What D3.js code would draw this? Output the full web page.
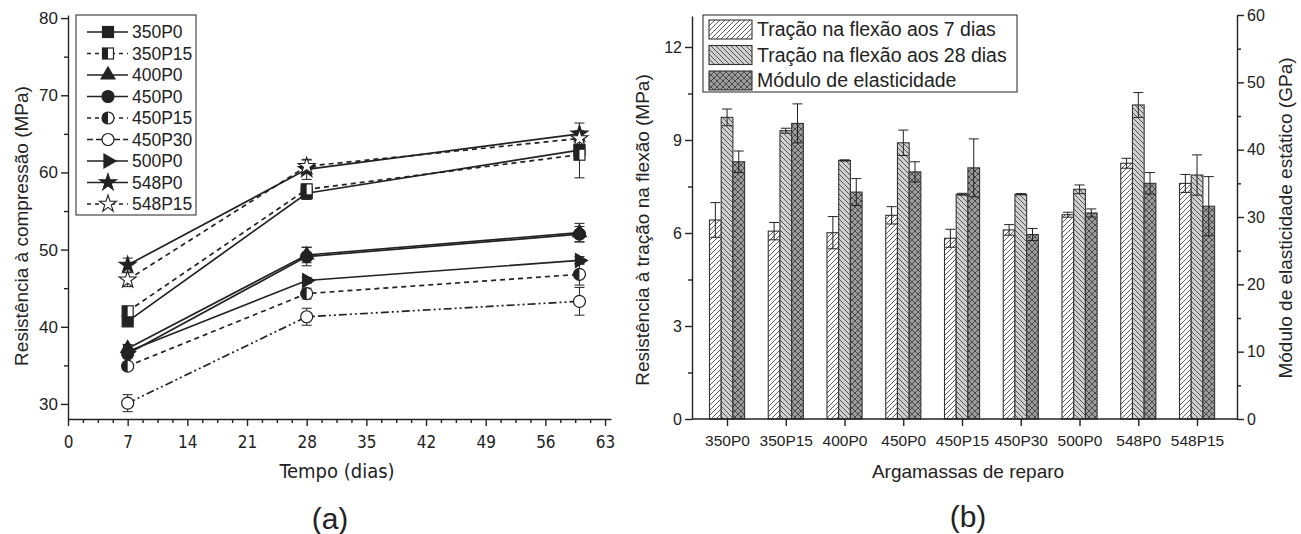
<!DOCTYPE html>
<html>
<head>
<meta charset="utf-8">
<script src="https://cdn.jsdelivr.net/npm/d3@7/dist/d3.min.js"></script>
<style>
  body { margin: 0; background: #fff; }
  svg { font-family: "Liberation Sans", Arial, sans-serif; }
  .axis path, .axis line { stroke: #222; stroke-width: 1.4; }
  .axis text { fill: #222; font-size: 16px; font-family: "Liberation Sans", Arial, sans-serif; }
  .narrow text { font-family: "Liberation Sans Narrow", "DejaVu Sans Condensed", Arial, sans-serif; }
</style>
</head>
<body>
<svg id="chart" width="1301" height="534"></svg>
<script>

// ---- (a) compressive strength vs time ----
var days = [7, 28, 60];
var seriesNames = ['350P0', '350P15', '400P0', '450P0', '450P15', '450P30', '500P0', '548P0', '548P15'];
var v350P0  = [40.7, 57.3, 62.9];
var v350P15 = [42.0, 57.8, 62.3];
var v400P0  = [37.2, 49.3, 52.2];
var v450P0  = [36.5, 49.1, 52.0];
var v450P15 = [34.9, 44.3, 46.8];
var v450P30 = [30.1, 41.3, 43.3];
var v500P0  = [36.8, 46.0, 48.6];
var v548P0  = [48.0, 60.4, 65.0];
var v548P15 = [46.1, 60.8, 64.4];
var e350P0  = [0.3, 0.8, 1.0];
var e350P15 = [0.3, 0.7, 3.0];
var e400P0  = [0.5, 1.0, 1.2];
var e450P0  = [0.5, 1.2, 1.0];
var e450P15 = [0.5, 0.7, 1.4];
var e450P30 = [1.1, 1.1, 1.8];
var e500P0  = [0.4, 0.4, 0.5];
var e548P0  = [0.9, 1.3, 1.4];
var e548P15 = [0.9, 0.8, 1.0];
var xTicksA = [0, 7, 14, 21, 28, 35, 42, 49, 56, 63];
var yTicksA = [30, 40, 50, 60, 70, 80];

// ---- (b) bars ----
var mortars = ['350P0', '350P15', '400P0', '450P0', '450P15', '450P30', '500P0', '548P0', '548P15'];
var flex7   = [6.42, 6.06, 6.01, 6.57, 5.83, 6.10, 6.59, 8.25, 7.60];
var flex7e  = [0.56, 0.28, 0.52, 0.28, 0.29, 0.17, 0.08, 0.16, 0.29];
var flex28  = [9.73, 9.30, 8.34, 8.91, 7.25, 7.25, 7.41, 10.13, 7.87];
var flex28e = [0.27, 0.08, 0.02, 0.41, 0.03, 0.02, 0.14, 0.40, 0.65];
var modulus = [38.2, 43.9, 33.7, 36.7, 37.3, 27.4, 30.6, 35.0, 31.6];
var modulusE = [1.6, 2.9, 2.0, 1.5, 4.3, 0.9, 0.6, 1.6, 4.4];
var yTicksL = [0, 3, 6, 9, 12];
var yTicksR = [0, 10, 20, 30, 40, 50, 60];
var legendB = ['Tração na flexão aos 7 dias', 'Tração na flexão aos 28 dias', 'Módulo de elasticidade'];

var ink = '#222';
var svg = d3.select('#chart');

/* patterns */
var defs = svg.append('defs');

function hatch ( id, size, bg, d ) {
    var p = defs.append('pattern')
        .attr('id', id)
        .attr('patternUnits', 'userSpaceOnUse')
        .attr('width', size)
        .attr('height', size);
    p.append('rect').attr('width', size).attr('height', size).attr('fill', bg);
    p.append('path').attr('d', d).attr('stroke', '#333').attr('stroke-width', 0.8).attr('fill', 'none');
}

hatch('p7', 5, '#ffffff', 'M0,5 L5,0 M-1,1 L1,-1 M4,6 L6,4');
hatch('p28', 5, '#d0d0d0', 'M0,0 L5,5 M-1,4 L1,6 M4,-1 L6,1');
hatch('pMod', 6, '#9c9c9c', 'M0,0 L6,6 M0,6 L6,0');

// ================= chart (a) =================

var xA = d3.scaleLinear().domain([0, 63.7]).range([68, 611]);
var yA = d3.scaleLinear().domain([28.05, 80.4]).range([419, 15]);

var minorX = d3.range(0, 63.1, 1.75).filter(function (d) { return xTicksA.indexOf(d) < 0; });
var minorY = [35, 45, 55, 65, 75];

svg.append('g').attr('class', 'axis narrow')
    .attr('transform', 'translate(0,419)')
    .call(d3.axisBottom(xA).tickValues(xTicksA).tickSize(7).tickSizeOuter(0))
    .selectAll('text').attr('y', 17).attr('dy', '0.71em').style('font-size', '17px');

svg.append('g').attr('class', 'axis')
    .attr('transform', 'translate(0,419)')
    .call(d3.axisBottom(xA).tickValues(minorX).tickSize(4).tickFormat(''))
    .select('.domain').remove();

svg.append('g').attr('class', 'axis')
    .attr('transform', 'translate(68,0)')
    .call(d3.axisLeft(yA).tickValues(yTicksA).tickSize(7).tickSizeOuter(0))
    .selectAll('text').style('font-size', '17px');

svg.append('g').attr('class', 'axis')
    .attr('transform', 'translate(68,0)')
    .call(d3.axisLeft(yA).tickValues(minorY).tickSize(4).tickFormat(''))
    .select('.domain').remove();

svg.append('text')
    .attr('transform', 'translate(21,226) rotate(-90)')
    .attr('text-anchor', 'middle')
    .attr('dy', '0.35em')
    .style('font-size', '19px').style('fill', ink)
    .text('Resistência à compressão (MPa)');

svg.append('text')
    .attr('x', 337).attr('y', 471).attr('dy', '0.35em')
    .attr('text-anchor', 'middle')
    .style('font-family', '"Liberation Sans Narrow", "DejaVu Sans Condensed", Arial, sans-serif')
    .style('font-size', '20px').style('fill', ink)
    .text('Tempo (dias)');

svg.append('text')
    .attr('x', 330).attr('y', 518).attr('dy', '0.35em')
    .attr('text-anchor', 'middle')
    .style('font-size', '30px').style('fill', ink)
    .text('(a)');

var seriesA = [
    { name: '350P0',  v: v350P0,  e: e350P0,  dash: null,        mark: 'square',   fill: 'full' },
    { name: '350P15', v: v350P15, e: e350P15, dash: '5,4',       mark: 'square',   fill: 'half' },
    { name: '400P0',  v: v400P0,  e: e400P0,  dash: null,        mark: 'triangle', fill: 'full' },
    { name: '450P0',  v: v450P0,  e: e450P0,  dash: null,        mark: 'circle',   fill: 'full' },
    { name: '450P15', v: v450P15, e: e450P15, dash: '5,4',       mark: 'circle',   fill: 'half' },
    { name: '450P30', v: v450P30, e: e450P30, dash: '8,3,2,3,2,3', mark: 'circle', fill: 'open' },
    { name: '500P0',  v: v500P0,  e: e500P0,  dash: null,        mark: 'right',    fill: 'full' },
    { name: '548P0',  v: v548P0,  e: e548P0,  dash: null,        mark: 'star',     fill: 'full' },
    { name: '548P15', v: v548P15, e: e548P15, dash: '5,4',       mark: 'star',     fill: 'open' }
];

function drawMarker ( g, cx, cy, s ) {
    var m = g.append('g').attr('transform', 'translate(' + cx + ',' + cy + ')');
    var r = 5.5;
    if ( s.mark === 'square' ) {
        m.append('rect').attr('x', -r).attr('y', -r).attr('width', 2 * r).attr('height', 2 * r)
            .attr('fill', s.fill === 'full' ? ink : '#fff').attr('stroke', ink).attr('stroke-width', 1.2);
        if ( s.fill === 'half' ) {
            m.append('rect').attr('x', -r).attr('y', -r).attr('width', r).attr('height', 2 * r).attr('fill', ink);
        }
    } else if ( s.mark === 'circle' ) {
        m.append('circle').attr('r', r + 0.5)
            .attr('fill', s.fill === 'full' ? ink : '#fff').attr('stroke', ink).attr('stroke-width', 1.2);
        if ( s.fill === 'half' ) {
            m.append('path').attr('d', 'M0,' + (-r - 0.5) + ' A' + (r + 0.5) + ',' + (r + 0.5) + ' 0 0 0 0,' + (r + 0.5) + ' Z').attr('fill', ink);
        }
    } else if ( s.mark === 'triangle' ) {
        m.append('path').attr('d', d3.symbol(d3.symbolTriangle, 110)()).attr('fill', ink);
    } else if ( s.mark === 'right' ) {
        m.append('path').attr('d', d3.symbol(d3.symbolTriangle, 110)()).attr('transform', 'rotate(90)').attr('fill', ink);
    } else if ( s.mark === 'star' ) {
        m.append('path').attr('d', d3.symbol(d3.symbolStar, 90)())
            .attr('fill', s.fill === 'full' ? ink : '#fff').attr('stroke', ink).attr('stroke-width', 1.1);
    }
}

var line = d3.line()
    .x(function (d) { return xA(d[0]); })
    .y(function (d) { return yA(d[1]); });

var gA = svg.append('g');

seriesA.forEach(function ( s ) {

    var pts = days.map(function (d, i) { return [d, s.v[i], s.e[i]]; });

    gA.append('path')
        .datum(pts)
        .attr('d', line)
        .attr('fill', 'none')
        .attr('stroke', ink)
        .attr('stroke-width', 1.7)
        .attr('stroke-dasharray', s.dash);

    pts.forEach(function ( p ) {
        var cx = xA(p[0]);
        gA.append('path')
            .attr('d', 'M' + cx + ',' + yA(p[1] - p[2]) + 'V' + yA(p[1] + p[2]) +
                'M' + (cx - 5) + ',' + yA(p[1] - p[2]) + 'H' + (cx + 5) +
                'M' + (cx - 5) + ',' + yA(p[1] + p[2]) + 'H' + (cx + 5))
            .attr('stroke', ink).attr('stroke-width', 1).attr('fill', 'none');
    });

    pts.forEach(function ( p ) {
        drawMarker(gA, xA(p[0]), yA(p[1]), s);
    });

});

/* legend (a) */

var legA = svg.append('g');

legA.append('rect')
    .attr('x', 76).attr('y', 15).attr('width', 120).attr('height', 200)
    .attr('fill', '#fff').attr('stroke', ink).attr('stroke-width', 1);

seriesA.forEach(function ( s, i ) {
    var y = 32 + i * 21.5;
    legA.append('line')
        .attr('x1', 87).attr('x2', 128).attr('y1', y).attr('y2', y)
        .attr('stroke', ink).attr('stroke-width', 1.7)
        .attr('stroke-dasharray', s.dash ? (s.dash === '5,4' ? '4,4' : '6,3') : null);
    drawMarker(legA, 108, y, s);
    legA.append('text')
        .attr('x', 132).attr('y', y).attr('dy', '0.36em')
        .style('font-size', '17.5px').style('fill', ink)
        .text(s.name);
});

// ================= chart (b) =================

var xB = d3.scalePoint().domain(mortars).range([727, 1197]);
var yL = d3.scaleLinear().domain([0, 13]).range([419, 16]);
var yR = d3.scaleLinear().domain([0, 60]).range([419, 15]);

var bw = 11.7;

var barsB = [
    { vals: flex7,   errs: flex7e,   scale: yL, off: -17.5, fill: 'url(#p7)' },
    { vals: flex28,  errs: flex28e,  scale: yL, off: -5.8,  fill: 'url(#p28)' },
    { vals: modulus, errs: modulusE, scale: yR, off: 5.9,   fill: 'url(#pMod)' }
];

var gB = svg.append('g');

barsB.forEach(function ( b ) {

    gB.selectAll(null)
        .data(mortars)
        .enter().append('rect')
        .attr('x', function (d) { return xB(d) + b.off; })
        .attr('y', function (d, i) { return b.scale(b.vals[i]); })
        .attr('width', bw)
        .attr('height', function (d, i) { return 419 - b.scale(b.vals[i]); })
        .attr('fill', b.fill)
        .attr('stroke', '#333')
        .attr('stroke-width', 1.1);

});

barsB.forEach(function ( b ) {

    gB.selectAll(null)
        .data(mortars)
        .enter().append('path')
        .attr('d', function (d, i) {
            var cx = xB(d) + b.off + bw / 2;
            var lo = b.scale(b.vals[i] - b.errs[i]);
            var hi = b.scale(b.vals[i] + b.errs[i]);
            return 'M' + cx + ',' + lo + 'V' + hi +
                'M' + (cx - 5) + ',' + lo + 'H' + (cx + 5) +
                'M' + (cx - 5) + ',' + hi + 'H' + (cx + 5);
        })
        .attr('stroke', ink).attr('stroke-width', 1).attr('fill', 'none');

});

/* axes (b) */

svg.append('line')
    .attr('x1', 692).attr('x2', 1237).attr('y1', 419).attr('y2', 419)
    .attr('stroke', ink).attr('stroke-width', 1.4);

svg.append('g').attr('class', 'axis')
    .attr('transform', 'translate(0,419)')
    .call(d3.axisBottom(xB).tickSize(7).tickSizeOuter(0))
    .call(function (g) { g.select('.domain').remove(); })
    .selectAll('text').attr('y', 16).attr('dy', '0.71em').style('font-size', '15.5px');

svg.append('g').attr('class', 'axis')
    .attr('transform', 'translate(692,0)')
    .call(d3.axisLeft(yL).tickValues(yTicksL).tickSize(7).tickSizeOuter(0))
    .selectAll('text').style('font-size', '16px');

svg.append('g').attr('class', 'axis')
    .attr('transform', 'translate(692,0)')
    .call(d3.axisLeft(yL).tickValues([1.5, 4.5, 7.5, 10.5]).tickSize(4).tickFormat(''))
    .select('.domain').remove();

svg.append('g').attr('class', 'axis')
    .attr('transform', 'translate(1237,0)')
    .call(d3.axisRight(yR).tickValues(yTicksR).tickSize(7).tickSizeOuter(0))
    .selectAll('text').style('font-size', '16px');

svg.append('g').attr('class', 'axis')
    .attr('transform', 'translate(1237,0)')
    .call(d3.axisRight(yR).tickValues([5, 15, 25, 35, 45, 55]).tickSize(4).tickFormat(''))
    .select('.domain').remove();

svg.append('text')
    .attr('transform', 'translate(642,230) rotate(-90)')
    .attr('text-anchor', 'middle')
    .attr('dy', '0.35em')
    .style('font-size', '19px').style('fill', ink)
    .text('Resistência à tração na flexão (MPa)');

svg.append('text')
    .attr('transform', 'translate(1285,218) rotate(-90)')
    .attr('text-anchor', 'middle')
    .attr('dy', '0.35em')
    .style('font-size', '19px').style('fill', ink)
    .text('Módulo de elasticidade estático (GPa)');

svg.append('text')
    .attr('x', 968).attr('y', 471).attr('dy', '0.35em')
    .attr('text-anchor', 'middle')
    .style('font-size', '19px').style('fill', ink)
    .text('Argamassas de reparo');

svg.append('text')
    .attr('x', 968).attr('y', 516).attr('dy', '0.35em')
    .attr('text-anchor', 'middle')
    .style('font-size', '30px').style('fill', ink)
    .text('(b)');

/* legend (b) */

var legB = svg.append('g');

legB.append('rect')
    .attr('x', 703).attr('y', 15).attr('width', 314).attr('height', 77)
    .attr('fill', '#fff').attr('stroke', ink).attr('stroke-width', 1);

var legFills = ['url(#p7)', 'url(#p28)', 'url(#pMod)'];

legendB.forEach(function ( t, i ) {
    var y = 29 + i * 25.5;
    legB.append('rect')
        .attr('x', 709).attr('y', y - 9).attr('width', 43).attr('height', 19)
        .attr('fill', legFills[i]).attr('stroke', '#333').attr('stroke-width', 1.1);
    legB.append('text')
        .attr('x', 757).attr('y', y).attr('dy', '0.36em')
        .style('font-size', '19.5px').style('fill', ink)
        .text(t);
});

</script>
</body>
</html>
